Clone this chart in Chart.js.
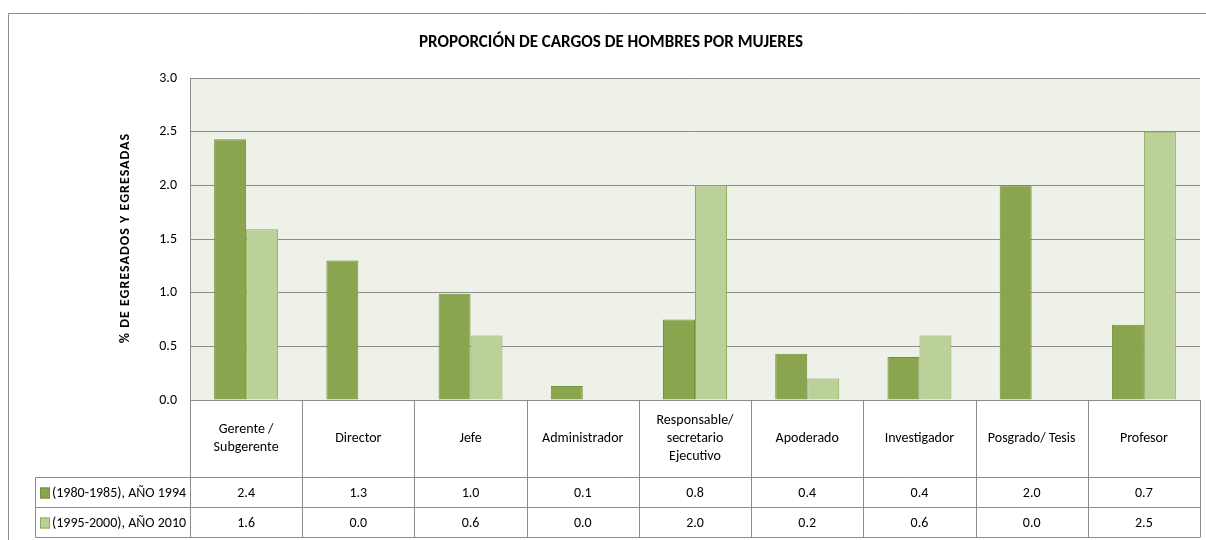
<!DOCTYPE html>
<html>
<head>
<meta charset="utf-8">
<script src="https://cdn.jsdelivr.net/npm/chart.js@4"></script>
<style>
html,body{margin:0;padding:0;background:#fff;}
#wrap{width:1206px;height:540px;position:relative;}
</style>
</head>
<body>
<div id="wrap"><canvas id="c" width="1206" height="540"></canvas></div>
<script>
const categories = [["Gerente /","Subgerente"],["Director"],["Jefe"],["Administrador"],["Responsable/","secretario","Ejecutivo"],["Apoderado"],["Investigador"],["Posgrado/ Tesis"],["Profesor"]];
const seriesNames = ["(1980-1985), AÑO 1994","(1995-2000), AÑO 2010"];
const series1994 = [2.43,1.30,0.99,0.13,0.75,0.43,0.40,2.00,0.70];
const series2010 = [1.59,0.00,0.60,0.00,2.00,0.20,0.60,0.00,2.50];
const tableRow1 = ["2.4","1.3","1.0","0.1","0.8","0.4","0.4","2.0","0.7"];
const tableRow2 = ["1.6","0.0","0.6","0.0","2.0","0.2","0.6","0.0","2.5"];
const yTicks = [0,0.5,1,1.5,2,2.5,3];
const chartTitle = "PROPORCIÓN DE CARGOS DE HOMBRES POR MUJERES";
const yTitle = "% DE EGRESADOS Y EGRESADAS";

const FONT = "Carlito, 'Liberation Sans Narrow', 'Open Sans', sans-serif";
const darkFill = "#8AA54D", darkBorder = "#73913A";
const lightFill = "#BCD09A", lightBorder = "#8EAD5A";
const lineCol = "#8C8C8C";

const customPlugin = {
  id: 'custom',
  beforeDraw(chart) {
    const ctx = chart.ctx, a = chart.chartArea;
    ctx.save();
    ctx.fillStyle = "#EEF1E8";
    ctx.fillRect(a.left, a.top, a.right - a.left, a.bottom - a.top);
    ctx.strokeStyle = "#8C8C8C"; ctx.lineWidth = 1;
    ctx.beginPath(); ctx.moveTo(8.5, 541); ctx.lineTo(8.5, 13.5); ctx.lineTo(1207, 13.5); ctx.stroke();
    ctx.restore();
  },
  afterDraw(chart) {
    const ctx = chart.ctx, a = chart.chartArea, x = chart.scales.x;
    const n = categories.length;
    const w = (a.right - a.left) / n;
    const r0 = a.bottom, r1 = 477.5, r2 = 507.5, r3 = 537.5, left = 35.5;
    ctx.save();
    ctx.strokeStyle = lineCol; ctx.lineWidth = 1;
    ctx.beginPath();
    for (let i = 0; i <= n; i++) {
      const xx = Math.round(a.left + i * w) + 0.5;
      ctx.moveTo(xx, r0); ctx.lineTo(xx, r3);
    }
    ctx.moveTo(left, r1); ctx.lineTo(left, r3);
    [r1, r2, r3].forEach(y => { ctx.moveTo(left, y); ctx.lineTo(a.right, y); });
    ctx.stroke();
    ctx.fillStyle = "#000"; ctx.font = "14px " + FONT;
    ctx.textAlign = "center"; ctx.textBaseline = "middle";
    const lh = 18, cy = (r0 + r1) / 2;
    categories.forEach((lab, i) => {
      const cx = x.getPixelForValue(i);
      lab.forEach((ln, j) => ctx.fillText(ln, cx, cy + (j - (lab.length - 1) / 2) * lh));
      ctx.fillText(tableRow1[i], cx, (r1 + r2) / 2 + 1);
      ctx.fillText(tableRow2[i], cx, (r2 + r3) / 2 + 1);
    });
    ctx.textAlign = "left";
    [[darkFill, darkBorder, r1, r2], [lightFill, lightBorder, r2, r3]].forEach((k, i) => {
      const my = (k[2] + k[3]) / 2;
      ctx.fillStyle = k[0]; ctx.fillRect(40, my - 5, 10, 11);
      ctx.strokeStyle = k[1]; ctx.strokeRect(40.5, my - 4.5, 9, 10);
      ctx.fillStyle = "#000";
      ctx.fillText(seriesNames[i], 52, my + 1);
    });
    ctx.textAlign = "center";
    ctx.font = "bold 17px " + FONT;
    ctx.fillText(chartTitle, 611, 43);
    ctx.save();
    ctx.translate(125, 238);
    ctx.rotate(-Math.PI / 2);
    ctx.font = "bold 14px " + FONT;
    ctx.letterSpacing = "1px";
    ctx.fillText(yTitle, 0, 0);
    ctx.restore();
    ctx.restore();
  }
};

new Chart(document.getElementById('c'), {
  type: 'bar',
  data: {
    labels: categories.map(c => c.join(' ')),
    datasets: [
      { label: seriesNames[0], data: series1994, backgroundColor: darkFill, borderColor: darkBorder, borderWidth: 1, borderSkipped: 'bottom' },
      { label: seriesNames[1], data: series2010, backgroundColor: lightFill, borderColor: lightBorder, borderWidth: 1, borderSkipped: 'bottom' }
    ]
  },
  options: {
    responsive: false,
    animation: false,
    devicePixelRatio: 1,
    layout: { padding: { left: 0, top: 78, right: 6, bottom: 0 } },
    plugins: { legend: { display: false }, tooltip: { enabled: false }, title: { display: false } },
    datasets: { bar: { categoryPercentage: 0.57, barPercentage: 1.0 } },
    scales: {
      x: {
        ticks: { display: false },
        grid: { display: false, drawTicks: false },
        border: { display: true, color: lineCol },
        afterFit(s) { s.height = 140; }
      },
      y: {
        min: 0, max: 3,
        afterBuildTicks(s) { s.ticks = yTicks.map(v => ({ value: v })); },
        ticks: { callback: v => Number(v).toFixed(1), color: "#000", font: { family: FONT, size: 14 }, padding: 13 },
        grid: { color: lineCol, drawTicks: false },
        border: { display: true, color: lineCol },
        afterFit(s) { s.width = 190; }
      }
    }
  },
  plugins: [customPlugin]
});
</script>
</body>
</html>
